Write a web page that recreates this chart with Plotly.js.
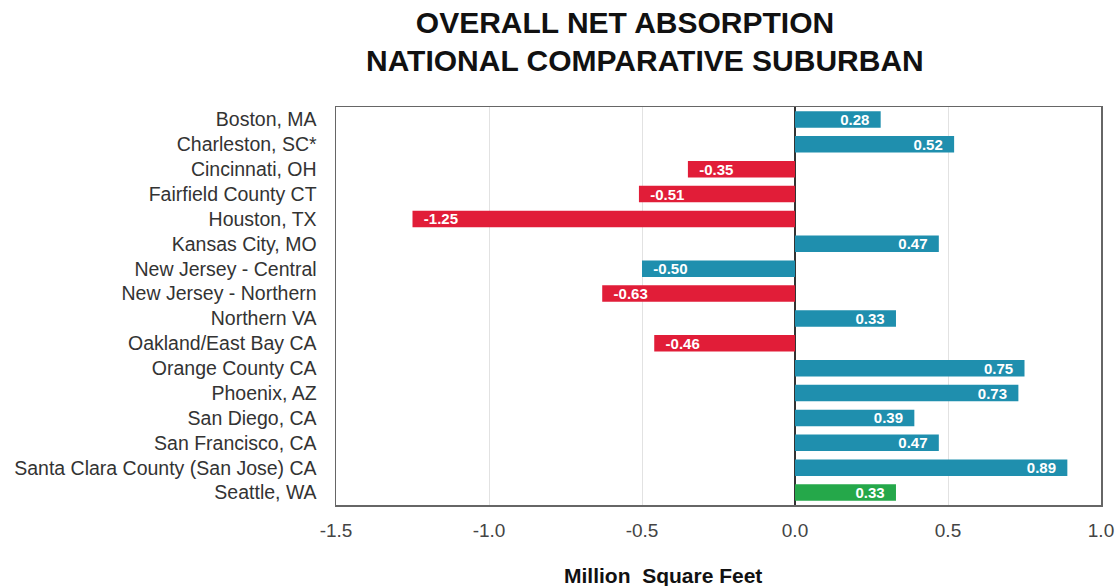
<!DOCTYPE html>
<html>
<head>
<meta charset="utf-8">
<script src="https://cdn.plot.ly/plotly-3.0.1.min.js"></script>
<style>html,body{margin:0;padding:0;background:#fff;}#chart{width:1117px;height:586px;}</style>
</head>
<body>
<div id="chart"></div>
<script>
const categories = ["Boston, MA","Charleston, SC*","Cincinnati, OH","Fairfield County CT","Houston, TX","Kansas City, MO","New Jersey - Central","New Jersey - Northern","Northern VA","Oakland/East Bay CA","Orange County CA","Phoenix, AZ","San Diego, CA","San Francisco, CA","Santa Clara County (San Jose) CA","Seattle, WA"];
const values = [0.28,0.52,-0.35,-0.51,-1.25,0.47,-0.50,-0.63,0.33,-0.46,0.75,0.73,0.39,0.47,0.89,0.33];
const labels = ["0.28","0.52","-0.35","-0.51","-1.25","0.47","-0.50","-0.63","0.33","-0.46","0.75","0.73","0.39","0.47","0.89","0.33"];
const groups = ["blue","blue","red","red","red","blue","blue","red","blue","red","blue","blue","blue","blue","blue","green"];
const tickVals = [-1.5,-1.0,-0.5,0.0,0.5,1.0];
const tickText = ["-1.5","-1.0","-0.5","0.0","0.5","1.0"];
const titleLines = ["OVERALL NET ABSORPTION","NATIONAL COMPARATIVE SUBURBAN"];
const xTitle = "Million  Square Feet";

const palette = {blue:"#1f8fae", red:"#e11d38", green:"#25a84a"};
const FONT = "Liberation Sans, Arial, sans-serif";
const pad = "\u00a0\u00a0";

const trace = {
  type: "bar",
  orientation: "h",
  y: categories,
  x: values,
  text: labels,
  texttemplate: values.map(v => v < 0 ? pad + "%{text}" : "%{text}" + pad),
  textposition: "inside",
  insidetextanchor: "end",
  textfont: {family: FONT, size: 15, color: "#ffffff", weight: "bold"},
  marker: {color: groups.map(g => palette[g])},
  width: 0.66,
  hoverinfo: "none"
};

const layout = {
  width: 1117, height: 586,
  margin: {l: 336, r: 16, t: 107, b: 81},
  paper_bgcolor: "#ffffff",
  plot_bgcolor: "#ffffff",
  showlegend: false,
  uniformtext: {minsize: 15, mode: "show"},
  title: {
    text: "<b>" + titleLines[0] + "</b>",
    font: {family: FONT, size: 30, color: "#111111"},
    x: 625 / 1117, xref: "container", xanchor: "center",
    y: 1 - 22 / 586, yref: "container", yanchor: "middle"
  },
  annotations: [
    {
      text: "<b>" + titleLines[1] + "</b>",
      font: {family: FONT, size: 30, color: "#111111"},
      xref: "paper", yref: "paper",
      x: (645 - 336) / (1117 - 336 - 16), xanchor: "center",
      y: 1 + (107 - 60) / (586 - 107 - 81), yanchor: "middle",
      showarrow: false
    },
    {
      text: "<b>" + xTitle + "</b>",
      font: {family: FONT, size: 21, color: "#111111"},
      xref: "paper", yref: "paper",
      x: (663 - 336) / (1117 - 336 - 16), xanchor: "center",
      y: -(575 - 505) / (586 - 107 - 81), yanchor: "middle",
      showarrow: false
    }
  ],
  xaxis: {
    range: [-1.5, 1.0],
    tickvals: tickVals,
    ticktext: tickText,
    tickfont: {family: FONT, size: 19, color: "#444444"},
    showgrid: true,
    gridcolor: "#e2e2e2",
    gridwidth: 1,
    zeroline: true,
    zerolinecolor: "#333333",
    zerolinewidth: 1.5,
    showline: true,
    linecolor: "#666666",
    linewidth: 1.5,
    mirror: true,
    ticks: "",
    ticklabelstandoff: 8
  },
  yaxis: {
    autorange: "reversed",
    type: "category",
    tickfont: {family: FONT, size: 19.5, color: "#333333"},
    showgrid: false,
    showline: true,
    linecolor: "#666666",
    linewidth: 1.5,
    mirror: true,
    ticks: "",
    ticklabelstandoff: 14
  },
  font: {family: FONT}
};

Plotly.newPlot("chart", [trace], layout, {displayModeBar: false, staticPlot: true});
</script>
</body>
</html>
